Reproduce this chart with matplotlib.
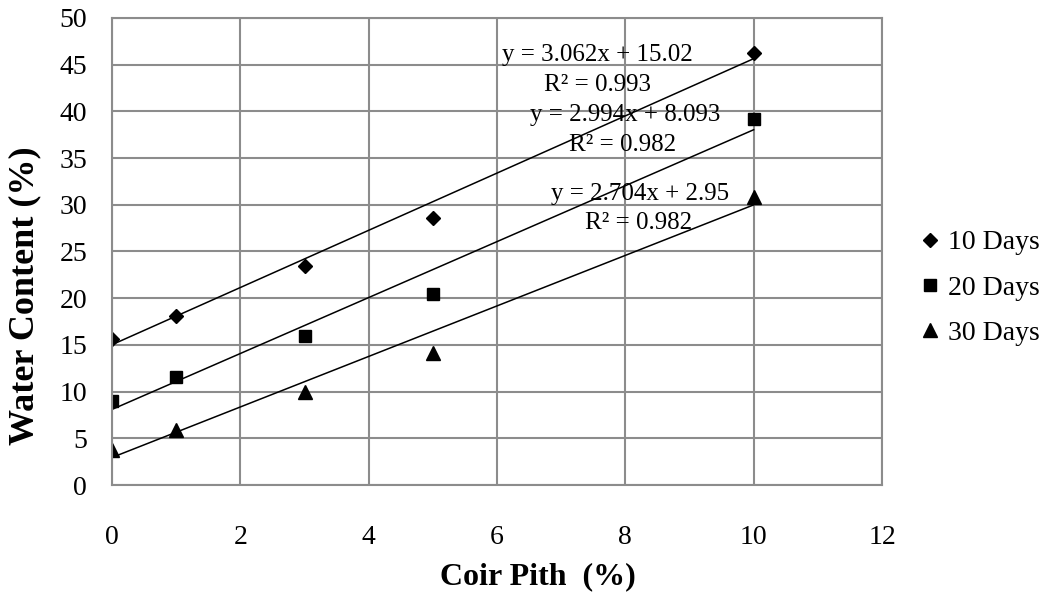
import matplotlib.pyplot as plt

plt.rcParams['font.family'] = ['Liberation Serif', 'DejaVu Serif']

coir = [0, 1, 3, 5, 10]
days10 = [15.6, 18.1, 23.4, 28.6, 46.2]
days20 = [9.0, 11.6, 16.0, 20.5, 39.2]
days30 = [3.8, 5.9, 10.0, 14.1, 30.8]

labels = ['10 Days', '20 Days', '30 Days']
slopes = [3.062, 2.994, 2.704]
intercepts = [15.02, 8.093, 2.95]
eq_texts = ['y = 3.062x + 15.02', 'y = 2.994x + 8.093', 'y = 2.704x + 2.95']
r2_texts = ['R² = 0.993', 'R² = 0.982', 'R² = 0.982']

fig = plt.figure(figsize=(10.51, 5.92), dpi=100)
ax = fig.add_axes([0.1066, 0.1807, 0.7326, 0.789])

series = [days10, days20, days30]
markers = ['D', 's', '^']
sizes = [7, 8.5, 10]
for ys, lab, m, ms in zip(series, labels, markers, sizes):
    ax.plot(coir, ys, linestyle='none', marker=m, markersize=ms, color='black', label=lab)

# linear trendlines
x0, x1 = coir[0], coir[-1]
for a, b in zip(slopes, intercepts):
    ax.plot([x0, x1], [a * x0 + b, a * x1 + b], color='black', lw=1.1)

# equation labels
eq_pos = [(7.56, 46.0), (7.99, 39.6), (8.23, 31.2)]
r2_pos = [(7.56, 42.8), (7.96, 36.4), (8.21, 28.1)]
for t, (x, y) in zip(eq_texts, eq_pos):
    ax.text(x, y, t, ha='center', va='center', fontsize=18)
for t, (x, y) in zip(r2_texts, r2_pos):
    ax.text(x, y, t, ha='center', va='center', fontsize=18)

ax.set_xlim(0, 12)
ax.set_ylim(0, 50)
ax.set_xticks(range(0, 13, 2))
ax.set_yticks(range(0, 51, 5))
ax.grid(True, color='#8c8c8c', lw=1.5)
ax.set_axisbelow(True)
for s in ax.spines.values():
    s.set_color('#8c8c8c')
    s.set_linewidth(1.5)
ax.tick_params(length=0, labelsize=20)
ax.tick_params(axis='x', pad=29)
ax.tick_params(axis='y', pad=18)

ax.set_xlabel('Coir Pith  (%)', fontsize=23, fontweight='bold')
ax.xaxis.set_label_coords(0.553, -0.165)
ax.set_ylabel('Water Content (%)', fontsize=26, fontweight='bold')
ax.yaxis.set_label_coords(-0.092, 0.405)

ax.legend(loc='center left', bbox_to_anchor=(0.877, 0.5135), bbox_transform=fig.transFigure,
          frameon=False, fontsize=20, handlelength=0.6, handletextpad=0.35,
          labelspacing=0.72, borderpad=0, borderaxespad=0)

fig.savefig('out.png', dpi=100)
